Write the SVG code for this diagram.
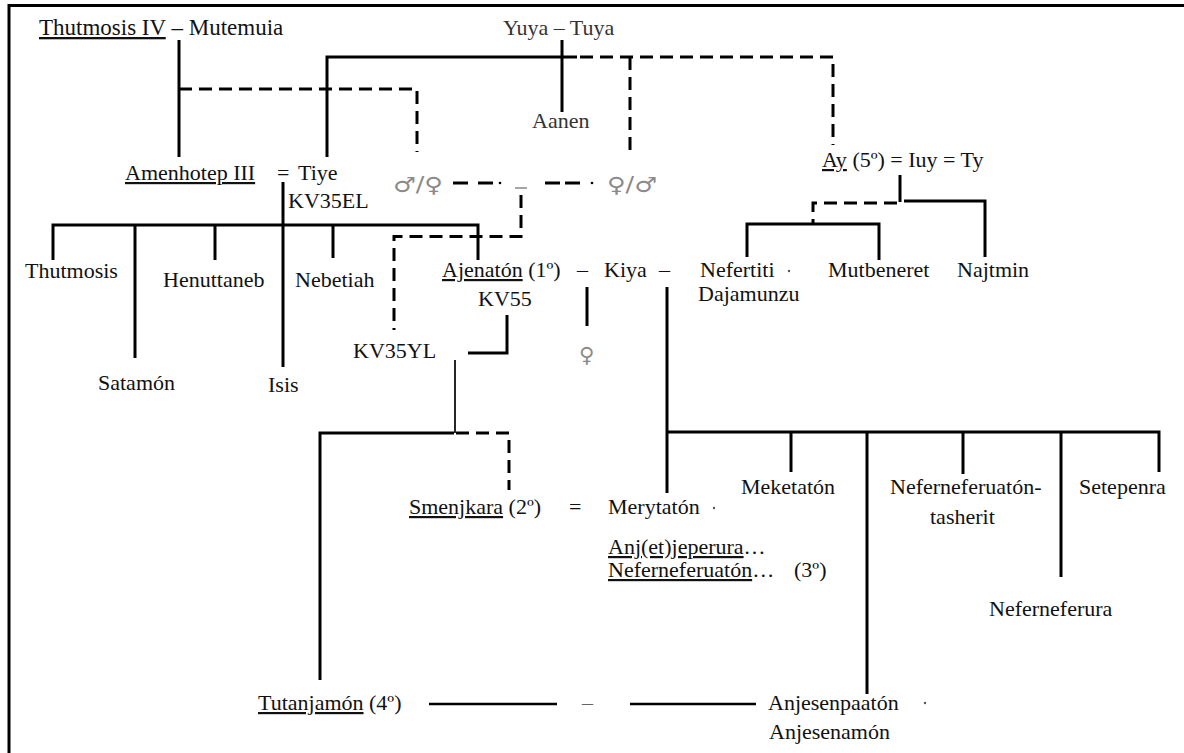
<svg xmlns="http://www.w3.org/2000/svg" width="1184" height="753" viewBox="0 0 1184 753">
<style>
text { font-family: "Liberation Serif", "Times New Roman", serif; font-size: 22px; fill: #111; }
.u { text-decoration: underline; }
.sym { font-family: "DejaVu Sans", sans-serif; fill: #8a8a8a; font-size: 21px; }
.gray { fill: #777; }
.solid { stroke: #000; stroke-width: 3; fill: none; }
.thin { stroke: #000; stroke-width: 1.7; fill: none; }
.dash { stroke: #000; stroke-width: 3; fill: none; stroke-dasharray: 13 7; }
.frame { stroke: #000; stroke-width: 3; fill: none; }
</style>
<rect width="1184" height="753" fill="#fff"/>
<g id="frame">
  <path class="frame" d="M9,753 V5.5 H1184"/>
</g>
<g id="connectors">
  <path class="solid" d="M179,40 V157"/>
  <path class="solid" d="M327,157 V57 H577"/>
  <path class="solid" d="M562,40 V112"/>
  <path class="dash" d="M580,57 H833 V145"/>
  <path class="dash" d="M630,57 V150"/>
  <path class="dash" d="M179,89 H417 V152"/>
  <path class="solid" d="M283,182 V367"/>
  <path class="solid" d="M53,260 V225 H478 V260"/>
  <path class="solid" d="M135,225 V358"/>
  <path class="solid" d="M215,225 V260"/>
  <path class="solid" d="M333,225 V258"/>
  <path class="dash" d="M453,183 H493" style="stroke-dasharray:15 10"/>
  <circle cx="500" cy="183" r="1.3" fill="#000"/>
  <path d="M515,188 H527" stroke="#888" stroke-width="1.5"/>
  <path class="dash" d="M521,195 V236.5 H394 V330"/>
  <path class="dash" d="M545,183 H585" style="stroke-dasharray:15 5"/>
  <circle cx="592" cy="183" r="1.3" fill="#000"/>
  <path class="solid" d="M507,315 V353 H468"/>
  <path class="thin" d="M455,360 V433"/>
  <path class="solid" d="M320,680 V433 H454"/>
  <path class="dash" d="M456,433 H509 V490"/>
  <path class="solid" d="M587,287 V326"/>
  <path class="solid" d="M667,287 V493"/>
  <path class="solid" d="M667,432 H1159 V472"/>
  <path class="solid" d="M791,432 V472"/>
  <path class="solid" d="M867,432 V694"/>
  <path class="solid" d="M963,432 V474"/>
  <path class="solid" d="M1061,432 V577"/>
  <path class="solid" d="M900,175 V202"/>
  <path class="solid" d="M904,201 H985 V257"/>
  <path class="dash" d="M897,203 H813 V224"/>
  <path class="solid" d="M747,257 V224 H879 V260"/>
  <path class="solid" d="M429,704 H557" style="stroke-width:2.5"/>
  <path class="solid" d="M630,704 H756" style="stroke-width:2.5"/>
</g>
<g id="thutmosis-iv-mutemuia">
  <text x="39" y="35" style="font-size:23px"><tspan class="u">Thutmosis IV</tspan> – Mutemuia</text>
</g>
<g id="yuya-tuya">
  <text x="503" y="35" class="gray" style="fill:#333">Yuya – Tuya</text>
</g>
<g id="aanen">
  <text x="532" y="128" style="fill:#333">Aanen</text>
</g>
<g id="amenhotep-tiye">
  <text x="125" y="180"><tspan class="u">Amenhotep III</tspan></text>
  <text x="277" y="180">=</text>
  <text x="298" y="180">Tiye</text>
  <text x="288" y="208">KV35EL</text>
</g>
<g id="sex-unknown-1">
  <text x="393" y="192" class="sym" textLength="50" lengthAdjust="spacingAndGlyphs">♂/♀</text>
</g>
<g id="sex-unknown-2">
  <text x="607" y="192" class="sym" textLength="50" lengthAdjust="spacingAndGlyphs">♀/♂</text>
</g>
<g id="ay-iuy-ty">
  <text x="822" y="167"><tspan class="u">Ay</tspan> (5º) = Iuy = Ty</text>
</g>
<g id="thutmosis"><text x="25" y="278">Thutmosis</text></g>
<g id="henuttaneb"><text x="163" y="287">Henuttaneb</text></g>
<g id="nebetiah"><text x="295" y="287">Nebetiah</text></g>
<g id="satamon"><text x="98" y="390">Satamón</text></g>
<g id="isis"><text x="268" y="392">Isis</text></g>
<g id="kv35yl"><text x="353" y="358">KV35YL</text></g>
<g id="ajenaton-kiya">
  <text x="442" y="277"><tspan class="u">Ajenatón</tspan> (1º)</text>
  <text x="577" y="277">–</text>
  <text x="604" y="277">Kiya</text>
  <text x="659" y="277">–</text>
  <text x="478" y="306">KV55</text>
</g>
<g id="daughter-kiya">
  <text x="579" y="362" class="sym">♀</text>
</g>
<g id="nefertiti">
  <text x="700" y="277">Nefertiti</text>
  <circle cx="789" cy="271" r="1.2" fill="#555"/>
  <text x="698" y="301">Dajamunzu</text>
</g>
<g id="mutbeneret"><text x="828" y="277">Mutbeneret</text></g>
<g id="najtmin"><text x="957" y="277">Najtmin</text></g>
<g id="meketaton"><text x="741" y="494">Meketatón</text></g>
<g id="neferneferuaton-tasherit">
  <text x="890" y="494">Neferneferuatón-</text>
  <text x="930" y="524">tasherit</text>
</g>
<g id="setepenra"><text x="1079" y="494">Setepenra</text></g>
<g id="neferneferura"><text x="989" y="616">Neferneferura</text></g>
<g id="smenjkara-merytaton">
  <text x="409" y="514"><tspan class="u">Smenjkara</tspan> (2º)</text>
  <text x="569" y="514">=</text>
  <text x="608" y="514">Merytatón</text>
  <circle cx="714" cy="508" r="1.2" fill="#555"/>
  <text x="608" y="554"><tspan class="u">Anj(et)jeperura</tspan>…</text>
  <text x="608" y="577"><tspan class="u">Neferneferuatón</tspan>…</text>
  <text x="794" y="577">(3º)</text>
</g>
<g id="tutanjamon">
  <text x="258" y="710"><tspan class="u">Tutanjamón</tspan> (4º)</text>
</g>
<g id="marriage-dash">
  <text x="582" y="710" style="fill:#666">–</text>
</g>
<g id="anjesenpaaton">
  <text x="768" y="710">Anjesenpaatón</text>
  <circle cx="925" cy="703" r="1.2" fill="#555"/>
  <text x="769" y="739">Anjesenamón</text>
</g>
</svg>
